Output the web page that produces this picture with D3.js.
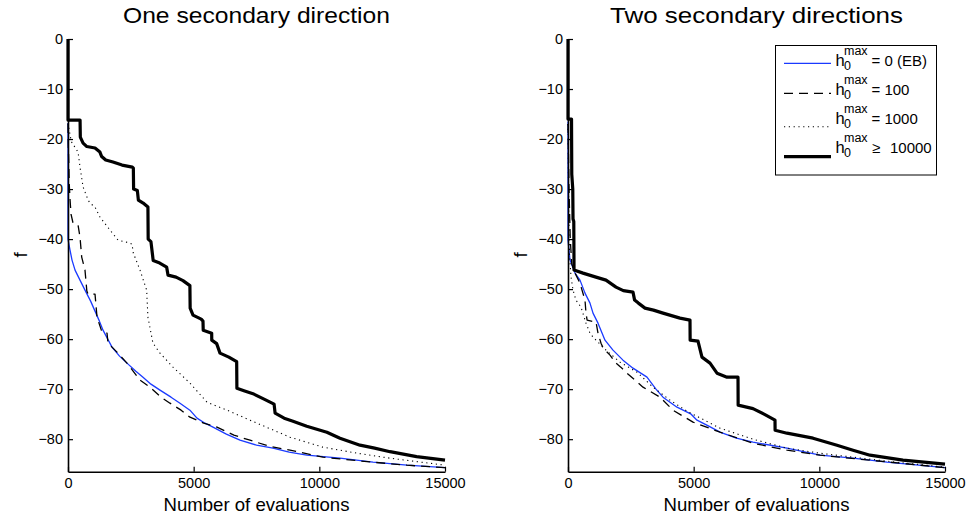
<!DOCTYPE html>
<html><head><meta charset="utf-8">
<script src="https://cdn.jsdelivr.net/npm/d3@7"></script>
<style>
body{margin:0;background:#fff}
svg{display:block}
text{font-family:Helvetica,Arial,"Liberation Sans",sans-serif;fill:#000}
</style>
</head><body>
<svg id="c" width="967" height="518"></svg>
<script>
// ---------------- data ----------------
const xTicks = [0, 5000, 10000, 15000];
const yTicks = [0, -10, -20, -30, -40, -50, -60, -70, -80];
const titles = ["One secondary direction", "Two secondary directions"];
const xLabel = "Number of evaluations";
const yLabel = "f";
const legendLabels = ["= 0 (EB)", "= 100", "= 1000", "10000"];

// Panel 1: one secondary direction  [evaluations, f]
const one_eb = [[0,-16.8],[0,-40],[80,-42.2],[160,-44.2],[280,-46.2],[477,-48.2],[676,-50.2],[900,-52.4],[1075,-54.4],[1250,-56.4],[1393,-58.2],[1750,-61.6],[2050,-63.4],[2347,-64.8],[2700,-66.4],[2984,-67.6],[3300,-69],[3660,-70.2],[4100,-71.6],[4456,-72.8],[4850,-74.2],[5132,-75.8],[5450,-76.8],[5769,-77.6],[6300,-79],[6843,-80.2],[7500,-81.2],[8156,-81.8],[8800,-82.6],[9500,-83.2],[10822,-83.8],[12135,-84.6],[13488,-85.2],[15000,-85.7]];
const one_h100 = [[0,-17],[10,-21],[30,-24.5],[50,-29],[80,-32],[120,-35],[200,-36.8],[400,-37.2],[477,-39.6],[545,-43.6],[676,-46.2],[750,-50.4],[800,-51],[1075,-51],[1154,-55.6],[1353,-58.6],[1552,-58.8],[1592,-60.8],[1950,-62.6],[2347,-64.8],[2865,-68.2],[3263,-69.6],[3700,-71.6],[4058,-72.8],[4500,-74.2],[4854,-75.6],[5400,-76.8],[5928,-77.6],[6600,-79.2],[7241,-80.2],[8000,-81.4],[8833,-82.2],[10145,-83.6],[12135,-84.6],[13488,-85.2],[15000,-85.7]];
const one_h1000 = [[0,-16.8],[130,-20.5],[400,-22.6],[477,-25.6],[600,-29.6],[800,-32.2],[875,-32.8],[1075,-33.6],[1273,-35.6],[1670,-38.2],[1990,-40.2],[2467,-40.8],[2546,-41],[2600,-42.8],[2865,-46.2],[3130,-50.2],[3180,-55.6],[3380,-60.8],[3660,-62.8],[4177,-65.6],[4854,-68.8],[5530,-72.6],[6326,-74.2],[7520,-76.8],[8833,-79.6],[10145,-81.6],[11499,-82.8],[12812,-83.8],[15000,-85.2]];
const one_h10000 = [[0,0],[0,-16.2],[480,-16.2],[490,-19.6],[600,-20.8],[750,-21.5],[1075,-21.8],[1270,-22.6],[1340,-23.5],[1500,-24.2],[1790,-24.6],[2150,-25.2],[2560,-25.6],[2600,-25.8],[2610,-30],[2760,-30.3],[2800,-32.2],[2990,-32.8],[3180,-33.6],[3190,-40],[3300,-40.5],[3390,-44.3],[3650,-44.8],[3925,-45.6],[3980,-47.2],[4300,-47.6],[4575,-48.3],[4850,-49.3],[4860,-53.8],[4974,-55.2],[5300,-56],[5371,-56.4],[5380,-58.2],[5717,-58.8],[5720,-60.2],[5915,-60.9],[6048,-62.8],[6400,-63.6],[6711,-64.5],[6720,-69.8],[7000,-70.3],[7360,-70.9],[7800,-72],[8200,-73],[8240,-74.8],[8600,-75.8],[8952,-76.4],[9500,-77.4],[10300,-78.6],[10822,-79.8],[11618,-81.2],[12200,-81.8],[12812,-82.5],[13870,-83.5],[15000,-84.2]];

// Panel 2: two secondary directions
const two_eb = [[0,-16.5],[0,-40.2],[80,-44.2],[280,-46.8],[477,-48.2],[676,-50.8],[875,-52.8],[995,-54.8],[1194,-56.8],[1472,-60.2],[1790,-62.2],[2188,-64.2],[2586,-65.8],[3143,-67.6],[3500,-70],[3780,-71.6],[4337,-73.6],[4900,-75],[5132,-76.2],[5600,-77.4],[6048,-78.6],[6700,-79.8],[7360,-80.6],[8713,-81.8],[10026,-83.2],[11340,-83.8],[12692,-84.6],[15000,-85.7]];
const two_h100 = [[0,-17],[40,-30],[90,-40],[150,-45],[280,-46.8],[477,-48.8],[676,-52.2],[716,-54.8],[760,-56.2],[1114,-56.6],[1194,-58.8],[1313,-60.8],[1400,-61.8],[1671,-63.2],[1910,-64.8],[2100,-65.6],[2347,-66.8],[2984,-69.6],[3660,-71.6],[4177,-74.2],[4974,-76.6],[6048,-78.6],[7360,-80.8],[8713,-82.2],[10026,-83.2],[12016,-84.2],[15000,-85.7]];
const two_h1000 = [[0,-17],[30,-35],[60,-43],[120,-47.6],[200,-50.2],[318,-52.2],[517,-53.6],[716,-56.8],[875,-58.8],[1000,-59.6],[1114,-60.2],[1512,-62.2],[2069,-64.6],[2745,-66.6],[3382,-69.6],[4058,-72.2],[4735,-74.4],[6048,-77.8],[7360,-80],[8713,-81.8],[10026,-82.8],[11340,-83.6],[12692,-84.4],[15000,-85.6]];
const two_h10000 = [[0,0],[0,-16],[140,-16],[150,-27],[190,-30],[200,-36],[230,-36.5],[240,-46.2],[597,-46.8],[1114,-47.6],[1512,-48.2],[1910,-49.6],[2200,-50.3],[2586,-50.6],[2650,-52.2],[2800,-52.8],[3064,-53.8],[3400,-54.2],[3780,-54.8],[4456,-55.8],[4854,-56.2],[4860,-60.2],[5172,-60.4],[5330,-63.6],[5650,-64.8],[5928,-66.8],[6326,-67.6],[6764,-67.6],[6770,-73.2],[7360,-73.9],[7800,-75],[8236,-76.2],[8240,-78.2],[8713,-78.8],[9750,-79.8],[10703,-81.2],[11340,-82.2],[12016,-83.2],[13329,-84.2],[15000,-85]];

// ---------------- drawing ----------------
const svg = d3.select("#c");
const styles = [
  {stroke:"#1a3aff", width:1.3, dash:null},
  {stroke:"#000", width:1.3, dash:"9,6"},
  {stroke:"#000", width:1.1, dash:"1.2,3.6"},
  {stroke:"#000", width:3.2, dash:null}
];
const panels = [
  {x0:68, title:titles[0], tl:267, series:[one_eb, one_h100, one_h1000, one_h10000]},
  {x0:568, title:titles[1], tl:293, series:[two_eb, two_h100, two_h1000, two_h10000]}
];
const yTop = 39, yBot = 471.7, pw = 377;

panels.forEach((p, pi) => {
  const x = d3.scaleLinear().domain([0, 15000]).range([p.x0, p.x0 + pw]);
  const y = d3.scaleLinear().domain([-86.5, 0]).range([yBot, yTop]);
  const g = svg.append("g");

  const line = d3.line().x(d => x(d[0])).y(d => y(d[1]));
  p.series.forEach((s, si) => {
    const st = styles[si];
    g.append("path").datum(s).attr("d", line)
      .attr("fill", "none").attr("stroke", st.stroke)
      .attr("stroke-width", st.width)
      .attr("stroke-linejoin", "round")
      .attr("stroke-dasharray", st.dash);
  });

  const ax = g.append("g").attr("transform", `translate(0,${yBot})`)
    .call(d3.axisBottom(x).tickValues(xTicks).tickFormat(d3.format("d"))
      .tickSizeInner(-5).tickSizeOuter(0).tickPadding(6));
  const ay = g.append("g").attr("transform", `translate(${p.x0},0)`)
    .call(d3.axisLeft(y).tickValues(yTicks).tickSizeInner(-5).tickSizeOuter(0).tickPadding(5));
  [ax, ay].forEach(a => {
    a.select(".domain").attr("stroke", "#000").attr("stroke-width", 1.6);
    a.selectAll(".tick line").attr("stroke", "#000").attr("stroke-width", 1.2);
    a.selectAll(".tick text").attr("font-size", 14.5)
      .attr("font-family", 'Helvetica,Arial,"Liberation Sans",sans-serif').attr("fill", "#000");
  });
  ax.selectAll(".tick text").attr("dy", "0.71em");

  svg.append("text").attr("x", p.x0 + pw / 2).attr("y", 23)
    .attr("text-anchor", "middle").attr("font-size", 22.5)
    .attr("textLength", p.tl).attr("lengthAdjust", "spacingAndGlyphs")
    .text(p.title);
  svg.append("text").attr("x", p.x0 + pw / 2).attr("y", 511)
    .attr("text-anchor", "middle").attr("font-size", 18.6).text(xLabel);
  svg.append("text").attr("transform", `translate(${p.x0 - 41},255) rotate(-90)`)
    .attr("text-anchor", "middle").attr("font-size", 18.6).text(yLabel);
});

// ---------------- legend ----------------
const lg = svg.append("g");
lg.append("rect").attr("x", 775.5).attr("y", 45.5).attr("width", 161).attr("height", 129.5)
  .attr("fill", "#fff").attr("stroke", "#000").attr("stroke-width", 1);
const lineY = [63.3, 93.3, 126.7, 156.7];
const baseY = [66, 95, 124, 153];
legendLabels.forEach((lab, i) => {
  const st = styles[i];
  lg.append("line").attr("x1", 784).attr("x2", 831).attr("y1", lineY[i]).attr("y2", lineY[i])
    .attr("stroke", st.stroke).attr("stroke-width", st.width).attr("stroke-dasharray", st.dash);
  const b = baseY[i];
  lg.append("text").attr("x", 835.5).attr("y", b).attr("font-size", 16.5).text("h");
  lg.append("text").attr("x", 844).attr("y", b - 11).attr("font-size", 12.5).text("max");
  lg.append("text").attr("x", 844).attr("y", b + 3.5).attr("font-size", 12.5).text("0");
  if (i < 3) {
    lg.append("text").attr("x", 871.5).attr("y", b).attr("font-size", 15).text(lab);
  } else {
    lg.append("text").attr("x", 872).attr("y", b).attr("font-size", 15).text("≥");
    lg.append("text").attr("x", 890).attr("y", b).attr("font-size", 15).text(lab);
  }
});
</script>
</body></html>
